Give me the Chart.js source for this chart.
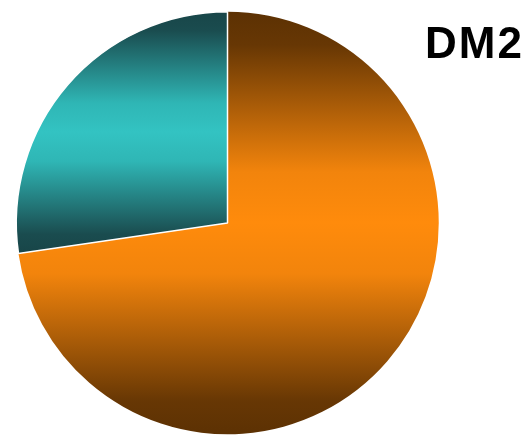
<!DOCTYPE html>
<html>
<head>
<meta charset="utf-8">
<script src="https://cdn.jsdelivr.net/npm/chart.js@4/dist/chart.umd.min.js"></script>
<style>
html,body{margin:0;padding:0;background:#fff;}
#wrap{width:530px;height:436px;position:relative;}
</style>
</head>
<body>
<div id="wrap"><canvas id="c" width="530" height="436"></canvas></div>
<script>
const categories = ["Yes", "No"];
const values = [72.7, 27.3];
const titleText = "DM2";
const brightColors = ["#ff8b0c", "#33c3c2"];
const midColors = ["#f2840c", "#2fb6b5"];
const darkColors = ["#673704", "#1a4c4f"];
const edgeColors = ["#5c3103", "#184548"];

function sliceGradient(context) {
  const chart = context.chart;
  const area = chart.chartArea;
  const i = context.dataIndex;
  if (!area) return brightColors[i];
  const meta = chart.getDatasetMeta(0);
  const el = meta.data[i];
  let cx, cy, r, a0, a1;
  if (el && el.outerRadius) {
    cx = el.x; cy = el.y; r = el.outerRadius; a0 = el.startAngle; a1 = el.endAngle;
  } else {
    cx = (area.left + area.right) / 2; cy = (area.top + area.bottom) / 2;
    r = Math.min(area.width, area.height) / 2;
    const total = values.reduce((a, b) => a + b, 0);
    let s = 0; for (let k = 0; k < i; k++) s += values[k];
    a0 = -Math.PI / 2 + 2 * Math.PI * s / total;
    a1 = a0 + 2 * Math.PI * values[i] / total;
  }
  const ys = [cy, cy + r * Math.sin(a0), cy + r * Math.sin(a1)];
  for (let k = -4; k <= 4; k++) {
    const a = Math.PI / 2 + k * Math.PI;
    if (a >= a0 && a <= a1) ys.push(cy + r * Math.sin(a));
  }
  const y0 = Math.min(...ys), y1 = Math.max(...ys);
  const g = chart.ctx.createLinearGradient(0, y0, 0, y1);
  g.addColorStop(0, edgeColors[i]);
  g.addColorStop(0.08, darkColors[i]);
  g.addColorStop(0.38, midColors[i]);
  g.addColorStop(0.5, brightColors[i]);
  g.addColorStop(0.62, midColors[i]);
  g.addColorStop(0.92, darkColors[i]);
  g.addColorStop(1, edgeColors[i]);
  return g;
}

const titlePlugin = {
  id: 'cornerTitle',
  afterDraw(chart) {
    const ctx = chart.ctx;
    ctx.save();
    ctx.font = 'bold 44px "Liberation Sans", Arial, sans-serif';
    ctx.fillStyle = '#000';
    ctx.textAlign = 'left';
    ctx.textBaseline = 'alphabetic';
    if ('letterSpacing' in ctx) ctx.letterSpacing = '2px';
    ctx.fillText(titleText, 425, 58);
    ctx.restore();
  }
};

new Chart(document.getElementById('c'), {
  type: 'pie',
  data: {
    labels: categories,
    datasets: [{
      data: values,
      backgroundColor: sliceGradient,
      borderColor: '#ffffff',
      borderWidth: [0, 1.5]
    }]
  },
  options: {
    responsive: false,
    animation: false,
    layout: { padding: { left: 15, right: 90, top: 11, bottom: 1 } },
    plugins: { legend: { display: false }, tooltip: { enabled: false }, title: { display: false } }
  },
  plugins: [titlePlugin]
});
</script>
</body>
</html>
